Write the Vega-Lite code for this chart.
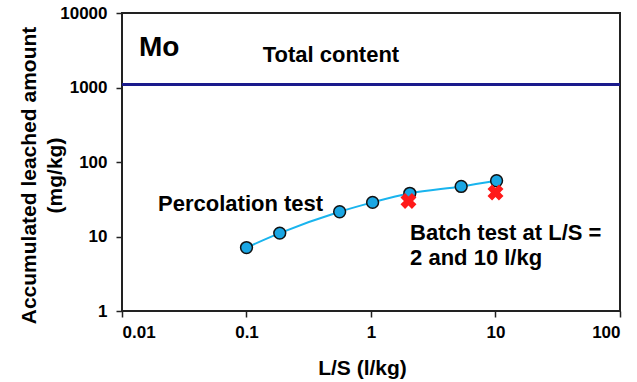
{
  "$schema": "https://vega.github.io/schema/vega-lite/v6.json",
  "autosize": "none",
  "width": 498,
  "height": 298,
  "padding": {"left": 122, "top": 13, "right": 17, "bottom": 71},
  "background": "white",
  "config": {
    "font": "Liberation Sans",
    "view": {"stroke": "#222222", "strokeWidth": 2},
    "axis": {"grid": false, "domain": false, "tickColor": "#222222", "tickWidth": 1.5, "tickSize": 6,
      "labelFont": "Liberation Sans", "labelFontWeight": "bold", "labelFontSize": 17, "labelColor": "black",
      "titleFont": "Liberation Sans", "titleFontWeight": "bold", "titleFontSize": 21, "titleColor": "black"}
  },
  "datasets": {
    "perc": [
      {"ls": 0.1, "amount": 7.1},
      {"ls": 0.185, "amount": 11.1},
      {"ls": 0.56, "amount": 21.5},
      {"ls": 1.03, "amount": 28.7},
      {"ls": 2.05, "amount": 38},
      {"ls": 5.3, "amount": 47},
      {"ls": 10.2, "amount": 56}
    ],
    "batch": [
      {"ls": 2, "amount": 30},
      {"ls": 10, "amount": 39}
    ],
    "total": [{"amount": 1100}],
    "labels": [
      {"ls": 0.0137, "amount": 3350, "text": "Mo", "kind": "big"},
      {"ls": 0.135, "amount": 2750, "text": "Total content", "kind": "mid"},
      {"ls": 0.0195, "amount": 27.5, "text": "Percolation test", "kind": "mid"},
      {"ls": 2.06, "amount": 11.2, "text": ["Batch test at L/S =", "2 and 10 l/kg"], "kind": "mid"}
    ]
  },
  "layer": [
    {
      "data": {"name": "total"},
      "mark": {"type": "rule", "color": "#1a1a8c", "strokeWidth": 3},
      "encoding": {
        "y": {"field": "amount", "type": "quantitative", "scale": {"type": "log", "domain": [1, 10000]}}
      }
    },
    {
      "data": {"name": "perc"},
      "mark": {"type": "line", "color": "#19b4ee", "strokeWidth": 2, "interpolate": "monotone"},
      "encoding": {
        "x": {"field": "ls", "type": "quantitative", "scale": {"type": "log", "domain": [0.01, 100]},
          "axis": {"title": "L/S (l/kg)", "values": [0.01, 0.1, 1, 10, 100], "labelExpr": "datum.value < 0.05 ? '0.01' : datum.value < 0.5 ? '0.1' : format(datum.value, 'd')", "labelPadding": 7, "titleX": 240, "titleY": 57, "titleBaseline": "middle"}},
        "y": {"field": "amount", "type": "quantitative", "scale": {"type": "log", "domain": [1, 10000]},
          "axis": {"title": ["Accumulated leached amount", "(mg/kg)"], "values": [1, 10, 100, 1000, 10000], "format": "d", "labelPadding": 9, "titleX": -93, "titleY": 162, "titleBaseline": "middle", "titleLineHeight": 26}}
      }
    },
    {
      "data": {"name": "perc"},
      "mark": {"type": "point", "filled": true, "fill": "#1aa6e3", "stroke": "#111111", "strokeWidth": 1.5, "size": 140, "opacity": 1},
      "encoding": {
        "x": {"field": "ls", "type": "quantitative"},
        "y": {"field": "amount", "type": "quantitative"}
      }
    },
    {
      "data": {"name": "batch"},
      "mark": {"type": "point", "shape": "cross", "angle": 45, "filled": true, "color": "#ff1a1a", "size": 260, "opacity": 1},
      "encoding": {
        "x": {"field": "ls", "type": "quantitative"},
        "y": {"field": "amount", "type": "quantitative"}
      }
    },
    {
      "data": {"name": "labels"},
      "mark": {"type": "text", "align": "left", "baseline": "middle", "fontWeight": "bold", "color": "black", "font": "Liberation Sans", "lineHeight": 25},
      "encoding": {
        "x": {"field": "ls", "type": "quantitative"},
        "y": {"field": "amount", "type": "quantitative"},
        "text": {"field": "text"},
        "size": {"field": "kind", "type": "nominal", "scale": {"domain": ["big", "mid"], "range": [28, 22]}, "legend": null}
      }
    }
  ]
}
